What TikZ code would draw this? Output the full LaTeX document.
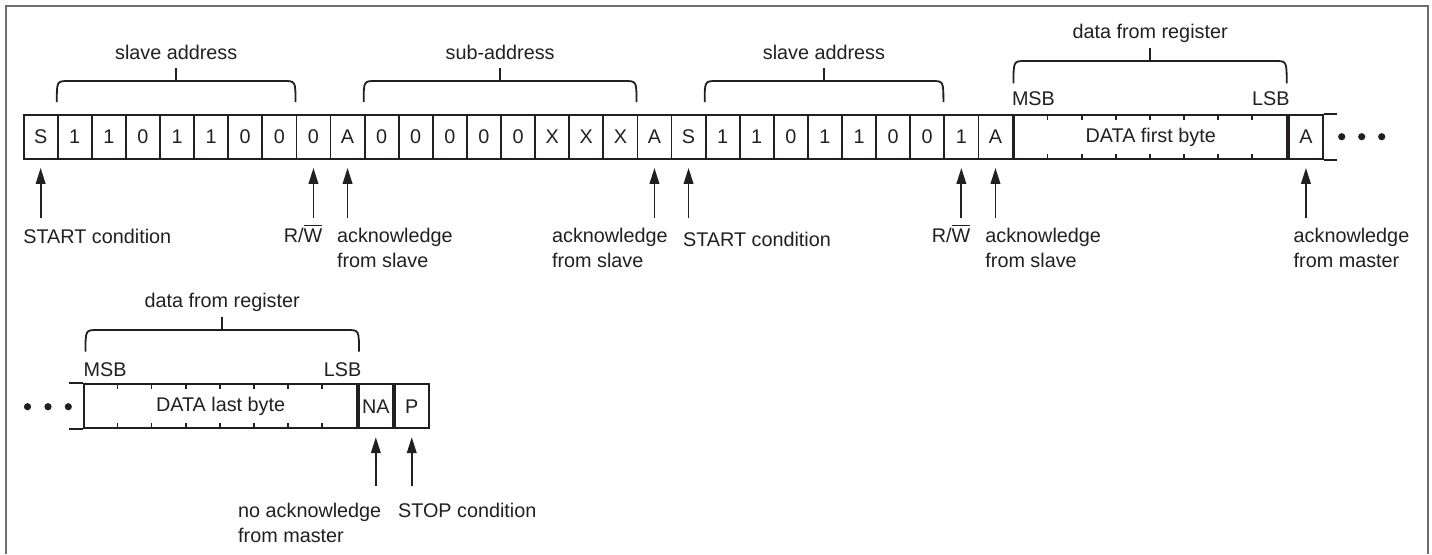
\documentclass[tikz,border=0pt]{standalone}
\usepackage{fontspec}
\setmainfont{Liberation Sans}
\usetikzlibrary{arrows.meta}
\definecolor{ink}{RGB}{35,31,32}
\definecolor{rim}{RGB}{110,110,110}

\begin{document}
\begin{tikzpicture}[
  x=0.5pt, y=-0.5pt,
  every node/.style = {font=\fontsize{9.9}{12.5}\selectfont, text=ink, inner sep=0pt},
  bit/.style = {draw=ink, line width=0.9pt, minimum width=17.05pt, minimum height=22pt, anchor=west},
  bytebox/.style = {bit, minimum width=136.4pt},
  note/.style = {align=left},
  pointer/.style = {draw=ink, line width=0.9pt, -{Triangle[length=8pt, width=4.8pt]}, shorten >=4pt},
  brace/.style = {draw=ink, line width=0.9pt},
  rail/.style = {draw=ink, line width=0.9pt}
]
  \useasboundingbox (0,0) rectangle (1432,554);
  \draw[rim, line width=1pt] (5.5,554) -- (5.5,5.5) -- (1428,5.5) -- (1428,554);

  % read sequence, first line
  \foreach \b [count=\i from 0] in {S,1,1,0,1,1,0,0,0,A,0,0,0,0,0,X,X,X,A,S,1,1,0,1,1,0,0,1,A}
    \node[bit] (c\i) at (22.7+34.1*\i,137) {\b};
  \node[bytebox] (d1) at (c28.east) {DATA first byte};
  \node[bit] (a1) at (d1.east) {A};
  \foreach \k in {1,...,7} {
    \draw[rail] (d1.north west) ++(34.1*\k,0) -- ++(0,6);
    \draw[rail] (d1.south west) ++(34.1*\k,0) -- ++(0,-6);
  }
  \draw[rail] (a1.north east) -- ++(13,0);
  \draw[rail] (a1.south east) -- ++(13,0);
  \foreach \x in {1341.7,1361.7,1381.7}
    \fill[ink] (\x,136.7) circle (1.8pt);

  % braces over the first line
  \draw[brace] (56.8,102) .. controls (56.8,81) .. (68.8,81) -- (283.5,81) .. controls (295.5,81) .. (295.5,102);
  \draw[brace] (176.2,81) -- (176.2,68);
  \node[anchor=base] (slv1) at (176.2,59.3) {slave address};
  \draw[brace] (363.7,102) .. controls (363.7,81) .. (375.7,81) -- (624.5,81) .. controls (636.5,81) .. (636.5,102);
  \draw[brace] (500.1,81) -- (500.1,68);
  \node[anchor=base] (sub1) at (500.1,59.3) {sub-address};
  \draw[brace] (704.7,102) .. controls (704.7,81) .. (716.7,81) -- (931.4,81) .. controls (943.4,81) .. (943.4,102);
  \draw[brace] (824,81) -- (824,68);
  \node[anchor=base] (slv2) at (824,59.3) {slave address};
  \draw[brace] (1013.5,83.3) .. controls (1013.5,61) .. (1025.5,61) -- (1274.7,61) .. controls (1286.7,61) .. (1286.7,83.3);
  \draw[brace] (1150.1,61) -- (1150.1,48.3);
  \node[anchor=base] (reg1) at (1150.1,38.5) {data from register};
  \node[anchor=base west] (msb1) at (1011.6,105.3) {MSB};
  \node[anchor=base east] (lsb1) at (1290,105.3) {LSB};

  % pointers under the first line
  \draw[pointer] ([yshift=-29pt]c0.south) -- (c0.south);
  \draw[pointer] ([yshift=-29pt]c8.south) -- (c8.south);
  \draw[pointer] ([yshift=-29pt]c9.south) -- (c9.south);
  \draw[pointer] ([yshift=-29pt]c18.south) -- (c18.south);
  \draw[pointer] ([yshift=-29pt]c19.south) -- (c19.south);
  \draw[pointer] ([yshift=-29pt]c27.south) -- (c27.south);
  \draw[pointer] ([yshift=-29pt]c28.south) -- (c28.south);
  \draw[pointer] ([yshift=-29pt]a1.south) -- (a1.south);
  \node[note, anchor=base west] (st1) at (23,243) {START condition};
  \node[anchor=base east] (rw1) at (322.7,242) {R/$\overline{\mbox{W}}$};
  \node[note, anchor=base west] (ak1) at (336.7,267) {acknowledge\\from slave};
  \node[note, anchor=base west] (ak2) at (551.7,267) {acknowledge\\from slave};
  \node[note, anchor=base west] (st2) at (682.7,246) {START condition};
  \node[anchor=base east] (rw2) at (970.7,242) {R/$\overline{\mbox{W}}$};
  \node[note, anchor=base west] (ak3) at (985,267) {acknowledge\\from slave};
  \node[note, anchor=base west] (ak4) at (1293.3,267) {acknowledge\\from master};

  % second line
  \node[bytebox] (d2) at (83.3,406.2) {DATA last byte};
  \node[bit] (n1) at (d2.east) {NA};
  \node[bit] (p1) at (n1.east) {P};
  \foreach \k in {1,...,7} {
    \draw[rail] (d2.north west) ++(34.1*\k,0) -- ++(0,6);
    \draw[rail] (d2.south west) ++(34.1*\k,0) -- ++(0,-6);
  }
  \draw[rail] (d2.north west) -- ++(-14,0);
  \draw[rail] (d2.south west) -- ++(-14,0);
  \foreach \x in {27.5,48,68.3}
    \fill[ink] (\x,406.7) circle (1.8pt);
  \draw[brace] (85.5,351.7) .. controls (85.5,330) .. (97.5,330) -- (347,330) .. controls (359,330) .. (359,351.7);
  \draw[brace] (222.2,330) -- (222.2,317.3);
  \node[anchor=base] (reg2) at (222.2,307) {data from register};
  \node[anchor=base west] (msb2) at (83.3,376) {MSB};
  \node[anchor=base east] (lsb2) at (361.7,376) {LSB};
  \draw[pointer] ([yshift=-28.5pt]n1.south) -- (n1.south);
  \draw[pointer] ([yshift=-28.5pt]p1.south) -- (p1.south);
  \node[note, anchor=base east] (na1) at (381.7,542) {no acknowledge\\from master};
  \node[note, anchor=base west] (sp1) at (397.7,517) {STOP condition};
\end{tikzpicture}
\end{document}
